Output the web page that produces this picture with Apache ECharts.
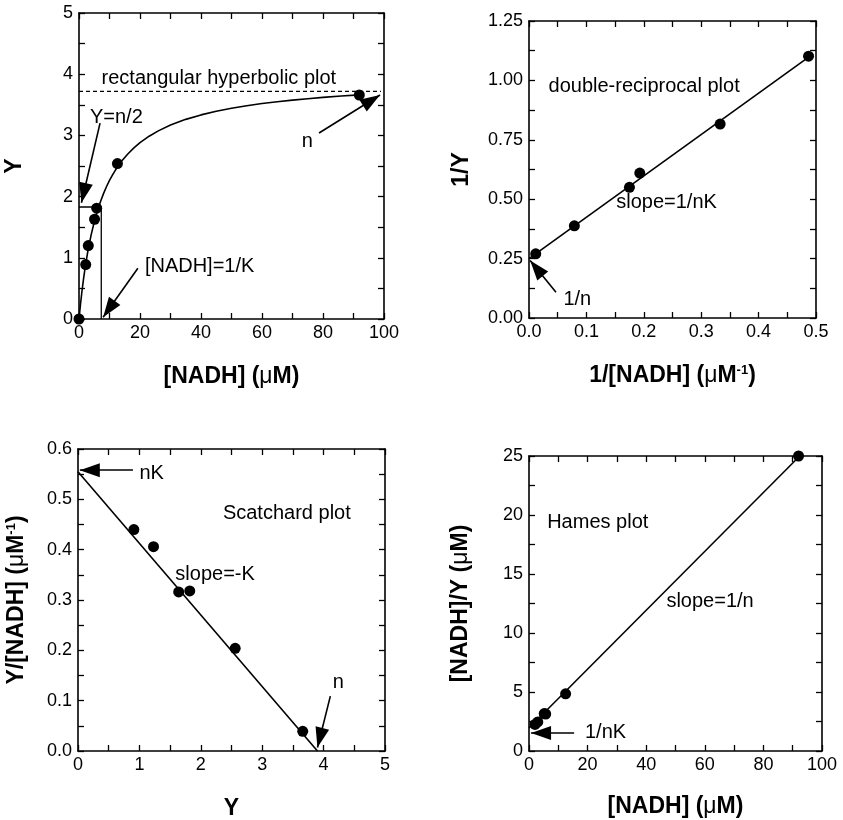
<!DOCTYPE html>
<html><head><meta charset="utf-8">
<script src="https://cdn.jsdelivr.net/npm/echarts@6/dist/echarts.min.js"></script>
<style>html,body{margin:0;padding:0;background:#fff}#c{width:843px;height:820px}</style>
</head><body><div id="c"></div>
<script>
// ---------- Panel 1: rectangular hyperbolic plot ----------
const p1NADH = [0, 2.2, 3.05, 5.1, 5.8, 12.6, 91.9];
const p1Y = [0, 0.89, 1.2, 1.63, 1.81, 2.54, 3.66];
const p1CurveX = [0, 0.5, 1, 1.5, 2, 2.5, 3, 4, 5, 6, 7, 8, 9, 10, 11, 12, 14, 16, 18, 20, 23, 26, 30, 35, 40, 45, 50, 55, 60, 65, 70, 75, 80, 86, 92];
const p1CurveY = [0, 0.248, 0.466, 0.661, 0.835, 0.991, 1.133, 1.379, 1.585, 1.761, 1.913, 2.045, 2.161, 2.264, 2.356, 2.438, 2.580, 2.697, 2.796, 2.881, 2.987, 3.074, 3.169, 3.262, 3.335, 3.395, 3.444, 3.485, 3.521, 3.551, 3.577, 3.600, 3.621, 3.643, 3.662];
const p1HalfX = [0, 7.3, 7.3];
const p1HalfY = [1.83, 1.83, 0];
const p1AsymX = [0, 99];
const p1AsymY = [3.72, 3.72];
const p1XTicks = [0, 20, 40, 60, 80, 100];
const p1YTicks = [0, 1, 2, 3, 4, 5];
const p1Notes = ['rectangular hyperbolic plot', 'Y=n/2', 'n', '[NADH]=1/K'];
const p1NoteX = [7.4, 3.6, 73, 21.6];
const p1NoteY = [3.93, 3.3, 2.9, 0.855];
const p1ArrowFrom = [[6.9, 3.2], [78.7, 3.04], [19.3, 0.83]];
const p1ArrowTo = [[0.8, 1.9], [98.7, 3.66], [7.9, 0.03]];

// ---------- Panel 2: double-reciprocal plot ----------
const p2InvNADH = [0.0117, 0.079, 0.175, 0.193, 0.333, 0.487];
const p2InvY = [0.27, 0.388, 0.55, 0.61, 0.816, 1.102];
const p2FitX = [0, 0.495];
const p2FitY = [0.25, 1.112];
const p2XTicks = [0, 0.1, 0.2, 0.3, 0.4, 0.5];
const p2YTicks = [0, 0.25, 0.5, 0.75, 1.0, 1.25];
const p2Notes = ['double-reciprocal plot', 'slope=1/nK', '1/n'];
const p2NoteX = [0.034, 0.152, 0.06];
const p2NoteY = [0.976, 0.486, 0.077];
const p2ArrowFrom = [[0.047, 0.108]];
const p2ArrowTo = [[0.002, 0.242]];

// ---------- Panel 3: Scatchard plot ----------
const p3Y = [0.91, 1.23, 1.64, 1.82, 2.56, 3.66];
const p3YoverNADH = [0.44, 0.406, 0.316, 0.318, 0.204, 0.039];
const p3FitX = [0, 3.9];
const p3FitY = [0.555, 0];
const p3XTicks = [0, 1, 2, 3, 4, 5];
const p3YTicks = [0, 0.1, 0.2, 0.3, 0.4, 0.5, 0.6];
const p3Notes = ['nK', 'Scatchard plot', 'slope=-K', 'n'];
const p3NoteX = [1.0, 2.36, 1.585, 4.15];
const p3NoteY = [0.552, 0.471, 0.351, 0.137];
const p3ArrowFrom = [[0.895, 0.558], [4.11, 0.109]];
const p3ArrowTo = [[0.03, 0.558], [3.9, 0.007]];

// ---------- Panel 4: Hames plot ----------
const p4NADH = [2.05, 3.0, 5.2, 5.7, 12.5, 92.0];
const p4NADHoverY = [2.25, 2.46, 3.17, 3.13, 4.85, 25.0];
const p4FitX = [0, 92.4];
const p4FitY = [1.95, 25.0];
const p4XTicks = [0, 20, 40, 60, 80, 100];
const p4YTicks = [0, 5, 10, 15, 20, 25];
const p4Notes = ['Hames plot', 'slope=1/n', '1/nK'];
const p4NoteX = [6.2, 46.9, 19.1];
const p4NoteY = [19.4, 12.7, 1.53];
const p4ArrowFrom = [[15.4, 1.53]];
const p4ArrowTo = [[0.7, 1.53]];

// ---------- helpers ----------
const FONT = '"Liberation Sans", Arial, Helvetica, sans-serif';
const ARROW = 'path://M0,-20 M0,0 L7,20 L-7,20 Z';
const TICK_FS = 18, NOTE_FS = 20, NAME_FS = 23;

function tickFmt(labels, dec) {
  return function (v) {
    for (const l of labels) if (Math.abs(l - v) < 1e-7) return v.toFixed(dec);
    return '';
  };
}
const richName = {
  mu: { fontSize: NAME_FS, fontWeight: 'normal', fontFamily: FONT, color: '#000' },
  sup: { fontSize: 13, fontWeight: 'bold', fontFamily: FONT, color: '#000', verticalAlign: 'top' }
};
function baseAxis(gridIndex, min, max, step) {
  return {
    type: 'value', gridIndex, min, max, interval: step,
    splitLine: { show: false },
    axisLine: { show: true, onZero: false, lineStyle: { color: '#000', width: 1.6 } },
    axisTick: { show: true, inside: true, length: 6, lineStyle: { color: '#000', width: 1.3 } }
  };
}
function mainAxis(pos, gridIndex, min, max, step, labels, dec, name, gap, margin) {
  return Object.assign(baseAxis(gridIndex, min, max, step), {
    position: pos,
    axisLabel: { show: true, formatter: tickFmt(labels, dec), fontSize: TICK_FS, color: '#000', fontFamily: FONT, margin },
    name, nameLocation: 'middle', nameGap: gap,
    nameTextStyle: { fontSize: NAME_FS, fontWeight: 'bold', color: '#000', fontFamily: FONT, rich: richName }
  });
}
function mirrorAxis(pos, gridIndex, min, max, step) {
  return Object.assign(baseAxis(gridIndex, min, max, step), { position: pos, axisLabel: { show: false } });
}
function pts(xs, ys) { return xs.map((x, i) => [x, ys[i]]); }
function scatterSeries(k, xs, ys) {
  return { type: 'scatter', xAxisIndex: 2 * k, yAxisIndex: 2 * k, clip: false, symbol: 'circle', symbolSize: 11,
    itemStyle: { color: '#000', opacity: 1 }, z: 5, data: pts(xs, ys), silent: true };
}
function lineSeries(k, xs, ys, extra) {
  return Object.assign({ type: 'line', xAxisIndex: 2 * k, yAxisIndex: 2 * k, showSymbol: false, symbol: 'none',
    lineStyle: { color: '#000', width: 1.6 }, data: pts(xs, ys), silent: true, clip: false }, extra || {});
}
function noteSeries(k, texts, xs, ys, from, to) {
  return {
    type: 'scatter', xAxisIndex: 2 * k, yAxisIndex: 2 * k, clip: false, silent: true,
    symbolSize: 0, itemStyle: { color: '#000', opacity: 1 },
    data: texts.map((t, i) => ({ name: t, value: [xs[i], ys[i]] })),
    label: { show: true, position: 'right', distance: 0, formatter: p => p.name,
      fontSize: NOTE_FS, color: '#000', opacity: 1, fontFamily: FONT },
    markLine: {
      silent: true, animation: false,
      symbol: ['none', ARROW], symbolSize: [14, 40],
      label: { show: false },
      lineStyle: { color: '#000', width: 1.6, type: 'solid', opacity: 1 },
      itemStyle: { color: '#000' },
      emphasis: { disabled: true },
      data: from.map((f, i) => [{ coord: f }, { coord: to[i] }])
    }
  };
}

const grids = [
  { left: 79, top: 13, width: 305, height: 306 },
  { left: 529, top: 21, width: 287, height: 297 },
  { left: 78, top: 449, width: 307, height: 302 },
  { left: 529, top: 456, width: 293, height: 295 }
].map(g => Object.assign({ containLabel: false, outerBoundsMode: 'none' }, g));

const xAxes = [
  mainAxis('bottom', 0, 0, 100, 10, p1XTicks, 0, '[NADH] ({mu|μ}M)', 46, 5), mirrorAxis('top', 0, 0, 100, 10),
  mainAxis('bottom', 1, 0, 0.5, 0.05, p2XTicks, 1, '1/[NADH] ({mu|μ}M{sup|-1})', 46, 5), mirrorAxis('top', 1, 0, 0.5, 0.05),
  mainAxis('bottom', 2, 0, 5, 0.5, p3XTicks, 0, 'Y', 46, 5), mirrorAxis('top', 2, 0, 5, 0.5),
  mainAxis('bottom', 3, 0, 100, 10, p4XTicks, 0, '[NADH] ({mu|μ}M)', 44, 5), mirrorAxis('top', 3, 0, 100, 10)
];
const yAxes = [
  mainAxis('left', 0, 0, 5, 0.5, p1YTicks, 0, 'Y', 53, 6), mirrorAxis('right', 0, 0, 5, 0.5),
  mainAxis('left', 1, 0, 1.25, 0.125, p2YTicks, 2, '1/Y', 56, 6), mirrorAxis('right', 1, 0, 1.25, 0.125),
  mainAxis('left', 2, 0, 0.6, 0.05, p3YTicks, 1, 'Y/[NADH] ({mu|μ}M{sup|-1})', 50, 6), mirrorAxis('right', 2, 0, 0.6, 0.05),
  mainAxis('left', 3, 0, 25, 2.5, p4YTicks, 0, '[NADH]/Y ({mu|μ}M)', 57, 6), mirrorAxis('right', 3, 0, 25, 2.5)
];

const series = [
  // panel 1
  lineSeries(0, p1CurveX, p1CurveY),
  lineSeries(0, p1HalfX, p1HalfY, { lineStyle: { color: '#000', width: 1.3 } }),
  lineSeries(0, p1AsymX, p1AsymY, { lineStyle: { color: '#000', width: 1.2, type: [4, 3] } }),
  scatterSeries(0, p1NADH, p1Y),
  noteSeries(0, p1Notes, p1NoteX, p1NoteY, p1ArrowFrom, p1ArrowTo),
  // panel 2
  lineSeries(1, p2FitX, p2FitY),
  scatterSeries(1, p2InvNADH, p2InvY),
  noteSeries(1, p2Notes, p2NoteX, p2NoteY, p2ArrowFrom, p2ArrowTo),
  // panel 3
  lineSeries(2, p3FitX, p3FitY),
  scatterSeries(2, p3Y, p3YoverNADH),
  noteSeries(2, p3Notes, p3NoteX, p3NoteY, p3ArrowFrom, p3ArrowTo),
  // panel 4
  lineSeries(3, p4FitX, p4FitY),
  scatterSeries(3, p4NADH, p4NADHoverY),
  noteSeries(3, p4Notes, p4NoteX, p4NoteY, p4ArrowFrom, p4ArrowTo)
];

const chart = echarts.init(document.getElementById('c'), null, { renderer: 'canvas' });
chart.setOption({
  animation: false,
  backgroundColor: '#fff',
  textStyle: { fontFamily: FONT },
  grid: grids, xAxis: xAxes, yAxis: yAxes, series
});
</script></body></html>
